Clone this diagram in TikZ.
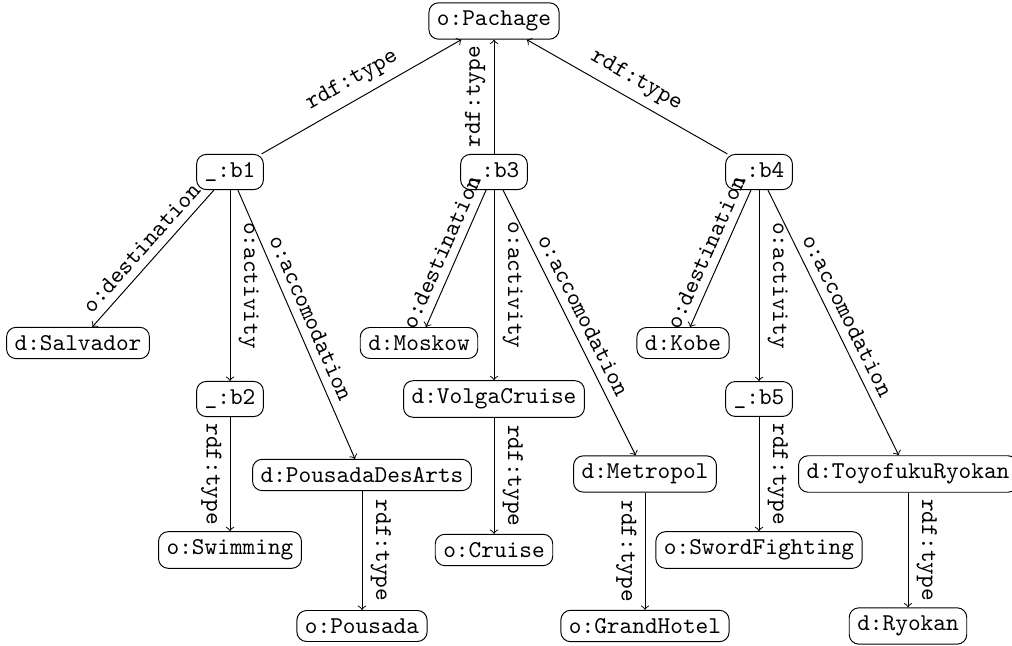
\documentclass[tikz,border=0pt]{standalone}
\begin{document}
\begin{tikzpicture}[x=0.4141pt,y=-0.4141pt,
  nd/.style={draw, rounded corners, font=\ttfamily},
  lbl/.style={font=\ttfamily, sloped, midway},
  arr/.style={->}]
\useasboundingbox (0,0) rectangle (1012,646);
% nodes
\node[nd] (P) at (494,21) {o:Pachage};
\node[nd] (b1) at (230,172) {\_:b1};
\node[nd] (b3) at (494,172) {\_:b3};
\node[nd] (b4) at (759,172) {\_:b4};
\node[nd] (sal) at (78,343) {d:Salvador};
\node[nd] (b2) at (230,399) {\_:b2};
\node[nd] (pda) at (362,475) {d:PousadaDesArts};
\node[nd] (swi) at (230,550) {o:Swimming};
\node[nd] (pou) at (362,626) {o:Pousada};
\node[nd] (mos) at (419,343) {d:Moskow};
\node[nd] (vol) at (494,399) {d:VolgaCruise};
\node[nd] (cru) at (494,550) {o:Cruise};
\node[nd] (met) at (645,474) {d:Metropol};
\node[nd] (gra) at (645,626) {o:GrandHotel};
\node[nd] (kob) at (683,343) {d:Kobe};
\node[nd] (b5) at (759,399) {\_:b5};
\node[nd] (swo) at (759,550) {o:SwordFighting};
\node[nd] (toy) at (908,474) {d:ToyofukuRyokan};
\node[nd] (ryo) at (908,626) {d:Ryokan};
% edges to Pachage
\draw[arr] (b1) -- node[lbl, above] {rdf:type} (P);
\draw[arr] (b3) -- node[lbl, above] {rdf:type} (P);
\draw[arr] (b4) -- node[lbl, above] {rdf:type} (P);
% b1
\draw[arr] (b1) -- node[lbl, above] {o:destination} (sal);
\draw[arr] (b1) -- node[lbl, above] {o:activity} (b2);
\draw[arr] (b1) -- node[lbl, above] {o:accomodation} (pda);
\draw[arr] (b2) -- node[lbl, below] {rdf:type} (swi);
\draw[arr] (pda) -- node[lbl, above] {rdf:type} (pou);
% b3
\draw[arr] (b3) -- node[lbl, above] {o:destination} (mos);
\draw[arr] (b3) -- node[lbl, above] {o:activity} (vol);
\draw[arr] (b3) -- node[lbl, above] {o:accomodation} (met);
\draw[arr] (vol) -- node[lbl, above] {rdf:type} (cru);
\draw[arr] (met) -- node[lbl, below] {rdf:type} (gra);
% b4
\draw[arr] (b4) -- node[lbl, above] {o:destination} (kob);
\draw[arr] (b4) -- node[lbl, above] {o:activity} (b5);
\draw[arr] (b4) -- node[lbl, above] {o:accomodation} (toy);
\draw[arr] (b5) -- node[lbl, above] {rdf:type} (swo);
\draw[arr] (toy) -- node[lbl, above] {rdf:type} (ryo);
\end{tikzpicture}
\end{document}
